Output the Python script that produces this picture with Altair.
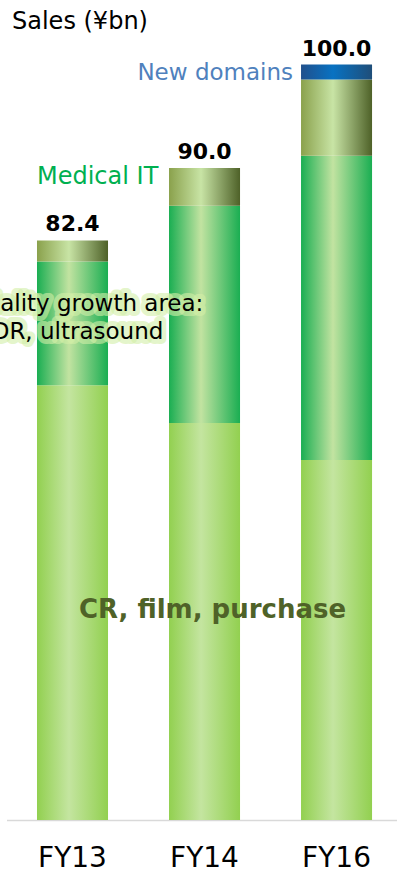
import altair as alt
import pandas as pd

# ---- data ----
years = ["FY13", "FY14", "FY16"]
segments = ["CR, film, purchase", "Modality growth area", "Medical IT", "New domains"]
cr_film_purchase = [57.6, 52.6, 47.7]
modality_growth = [16.4, 28.8, 40.3]
medical_it = [2.8, 5.0, 10.1]
new_domains = [0.0, 0.0, 2.0]
total_labels = ["82.4", "90.0", "100.0"]

series = [cr_film_purchase, modality_growth, medical_it, new_domains]
rows = []
for order, (seg, vals) in enumerate(zip(segments, series)):
    for yr, v in zip(years, vals):
        rows.append({"year": yr, "segment": seg, "order": order, "value": v})
df = pd.DataFrame(rows)

totals = [sum(s[i] for s in series) for i in range(len(years))]
labels_df = pd.DataFrame({"year": years, "total": totals, "label": total_labels})

FONT = "DejaVu Sans"

def grad(edge_l, mid, edge_r, mid_at=0.45):
    return alt.Gradient(
        gradient="linear", x1=0, x2=1, y1=0, y2=0,
        stops=[alt.GradientStop(color=edge_l, offset=0),
               alt.GradientStop(color=mid, offset=mid_at),
               alt.GradientStop(color=edge_r, offset=1)])

fills = {
    "CR, film, purchase": grad("#92d050", "#c4e5a0", "#92d050"),
    "Modality growth area": grad("#1aae52", "#c2e3a1", "#1aae52"),
    "Medical IT": grad("#8aa14c", "#c8e4a5", "#4e6128"),
    "New domains": grad("#21508c", "#0872c2", "#1f4e79"),
}

x_enc = alt.X("year:N", sort=years,
              scale=alt.Scale(domain=years, paddingInner=0.462, paddingOuter=0.21, align=0.55),
              axis=alt.Axis(title=None, labelAngle=0, ticks=False, labelFontSize=28,
                            labelFont=FONT, labelColor="black", labelPadding=24,
                            domainColor="#d9d9d9", domainWidth=1.5, grid=False))
y_scale = alt.Scale(domain=[0, 106], nice=False, zero=True)

base = alt.Chart(df).transform_stack(
    stack="value", groupby=["year"], sort=[alt.SortField("order", order="ascending")],
    as_=["y0", "y1"])

layers = []
for seg in segments:
    layers.append(
        base.transform_filter(alt.datum.segment == seg)
        .mark_bar(color=fills[seg])
        .encode(x=x_enc,
                y=alt.Y("y1:Q", scale=y_scale, axis=None),
                y2="y0:Q")
    )

totals_layer = alt.Chart(labels_df).mark_text(
    font=FONT, fontSize=22, fontWeight="bold", color="black",
    baseline="alphabetic", dy=-9
).encode(x=x_enc, y=alt.Y("total:Q", scale=y_scale, axis=None), text="label:N")

ann = alt.Chart(pd.DataFrame({"k": [0]}))

new_domains_txt = ann.mark_text(
    text="New domains", font=FONT, fontSize=23, color="#4f81bd",
    align="right", baseline="middle", dx=-8
).encode(x=alt.X(datum="FY16", bandPosition=0), y=alt.datum(99.0))

medical_txt = ann.mark_text(
    text="Medical IT", font=FONT, fontSize=24, color="#00b050",
    align="left", baseline="middle"
).encode(x=alt.X(datum="FY13", bandPosition=0), y=alt.datum(85.2))

modality_text = "Modality growth area:\nDR, ultrasound"
modality_glow = ann.mark_text(
    text=modality_text, lineBreak="\n", lineHeight=28, font=FONT, fontSize=23,
    color="#cfeda3", stroke="#d3efa8", strokeWidth=10, strokeOpacity=0.6,
    strokeJoin="round", align="center", baseline="middle", dx=5
).encode(x=alt.datum("FY13"), y=alt.datum(68.4))
modality_txt = ann.mark_text(
    text=modality_text, lineBreak="\n", lineHeight=28, font=FONT, fontSize=23,
    color="black", align="center", baseline="middle", dx=5
).encode(x=alt.datum("FY13"), y=alt.datum(68.4))

cr_txt = ann.mark_text(
    text="CR, film, purchase", font=FONT, fontSize=26, fontWeight="bold",
    color="#4f6228", align="center", baseline="middle", dx=8
).encode(x=alt.datum("FY14"), y=alt.datum(27.8))

chart = alt.layer(
    *layers, totals_layer, new_domains_txt, medical_txt,
    modality_glow, modality_txt, cr_txt
).properties(
    width=390.5, height=800,
    title=alt.TitleParams("Sales (¥bn)", anchor="start", frame="group", font=FONT,
                          fontSize=24, fontWeight="normal", color="black",
                          offset=-7, baseline="alphabetic", dx=5.5, dy=26),
    autosize=alt.AutoSizeParams(type="none"),
    padding={"left": 6.5, "top": 20, "right": 0, "bottom": 52},
    background="white",
).configure_view(stroke=None)

chart.save("out.html", embed_options={"renderer": "svg", "actions": False})
